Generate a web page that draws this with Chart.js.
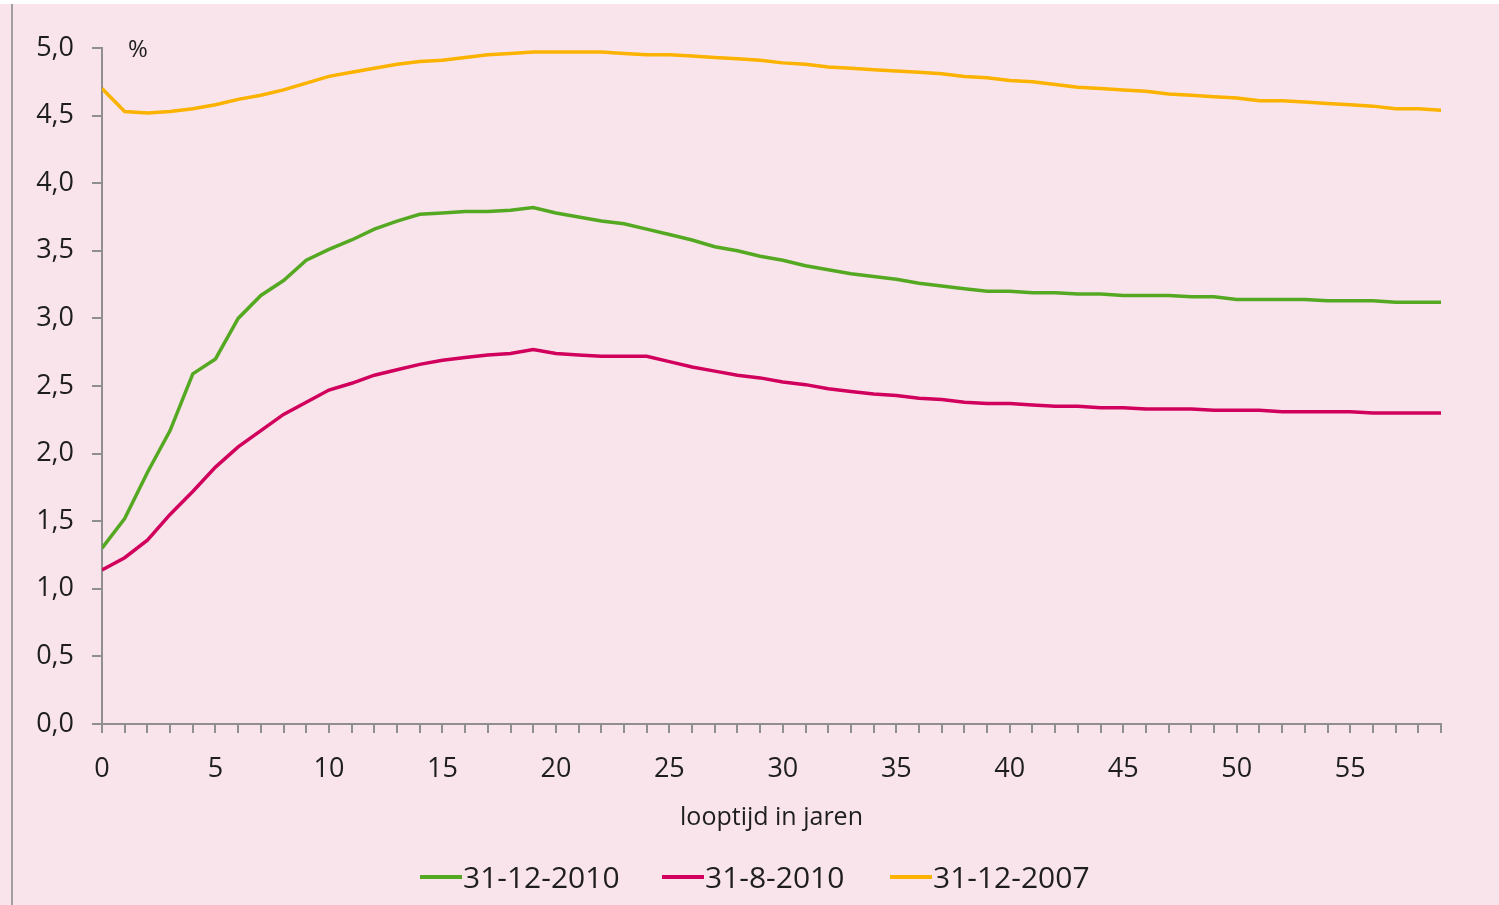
<!DOCTYPE html>
<html>
<head>
<meta charset="utf-8">
<script src="https://cdn.jsdelivr.net/npm/chart.js@4/dist/chart.umd.min.js"></script>
<style>
  html, body { margin: 0; padding: 0; background: #f9e4ec; }
  #wrap { width: 1499px; height: 905px; }
</style>
</head>
<body>
<div id="wrap"><canvas id="plot1" width="1499" height="905"></canvas></div>
<script>
// looptijd in jaren 0..59
let jaren = [0,1,2,3,4,5,6,7,8,9,10,11,12,13,14,15,16,17,18,19,20,21,22,23,24,25,26,27,28,29,
  30,31,32,33,34,35,36,37,38,39,40,41,42,43,44,45,46,47,48,49,50,51,52,53,54,55,56,57,58,59]

let reeks2010dec = [1.30,1.52,1.86,2.17,2.59,2.70,3.00,3.17,3.28,3.43,3.51,3.58,3.66,3.72,3.77,3.78,3.79,3.79,3.80,3.82,
  3.78,3.75,3.72,3.70,3.66,3.62,3.58,3.53,3.50,3.46,3.43,3.39,3.36,3.33,3.31,3.29,3.26,3.24,3.22,3.20,
  3.20,3.19,3.19,3.18,3.18,3.17,3.17,3.17,3.16,3.16,3.14,3.14,3.14,3.14,3.13,3.13,3.13,3.12,3.12,3.12]

let reeks2010aug = [1.14,1.23,1.36,1.55,1.72,1.90,2.05,2.17,2.29,2.38,2.47,2.52,2.58,2.62,2.66,2.69,2.71,2.73,2.74,2.77,
  2.74,2.73,2.72,2.72,2.72,2.68,2.64,2.61,2.58,2.56,2.53,2.51,2.48,2.46,2.44,2.43,2.41,2.40,2.38,2.37,
  2.37,2.36,2.35,2.35,2.34,2.34,2.33,2.33,2.33,2.32,2.32,2.32,2.31,2.31,2.31,2.31,2.30,2.30,2.30,2.30]

let reeks2007dec = [4.70,4.53,4.52,4.53,4.55,4.58,4.62,4.65,4.69,4.74,4.79,4.82,4.85,4.88,4.90,4.91,4.93,4.95,4.96,4.97,
  4.97,4.97,4.97,4.96,4.95,4.95,4.94,4.93,4.92,4.91,4.89,4.88,4.86,4.85,4.84,4.83,4.82,4.81,4.79,4.78,
  4.76,4.75,4.73,4.71,4.70,4.69,4.68,4.66,4.65,4.64,4.63,4.61,4.61,4.60,4.59,4.58,4.57,4.55,4.55,4.54]

let legendaLabels = ['31-12-2010', '31-8-2010', '31-12-2007']
let yTicks = [0, 0.5, 1, 1.5, 2, 2.5, 3, 3.5, 4, 4.5, 5]

const fontFam = '"Open Sans", sans-serif'
const asGrijs = '#8f8f8f'
const tekstKleur = '#1e1e1e'

let punten = (arr) => arr.map((v, i) => ({x: jaren[i], y: v}))

// achtergrond, linker kaderlijn, % en legenda
let extras = {
  id: 'extras',
  beforeDraw(chart) {
    let ctx = chart.ctx
    ctx.save()
    ctx.fillStyle = '#f9e4ec'
    ctx.fillRect(0, 0, chart.width, chart.height)
    ctx.fillStyle = '#ffffff'
    ctx.fillRect(0, 0, chart.width, 4)
    ctx.strokeStyle = '#a0a0a0'
    ctx.lineWidth = 2
    ctx.beginPath()
    ctx.moveTo(12, 4)
    ctx.lineTo(12, chart.height)
    ctx.stroke()
    ctx.restore()
  },
  afterDraw(chart) {
    let ctx = chart.ctx
    let area = chart.chartArea
    ctx.save()
    ctx.fillStyle = tekstKleur
    ctx.font = '24px ' + fontFam
    ctx.textAlign = 'left'
    ctx.textBaseline = 'middle'
    ctx.fillText('%', area.left + 26, area.top + 2)

    // legenda
    ctx.font = '30px ' + fontFam
    let startX = [420, 662, 890]
    let y = 877
    chart.data.datasets.forEach((ds, i) => {
      ctx.strokeStyle = ds.borderColor
      ctx.lineWidth = 4
      ctx.beginPath()
      ctx.moveTo(startX[i], y)
      ctx.lineTo(startX[i] + 42, y)
      ctx.stroke()
      ctx.fillStyle = tekstKleur
      ctx.fillText(ds.label, startX[i] + 43, y + 2)
    })
    ctx.restore()
  }
}

let plotRef = document.getElementById('plot1')

let config = {
  type: 'line',
  data: {
    datasets: [
      { label: legendaLabels[0], data: punten(reeks2010dec), borderColor: '#55a821' },
      { label: legendaLabels[1], data: punten(reeks2010aug), borderColor: '#d1005c' },
      { label: legendaLabels[2], data: punten(reeks2007dec), borderColor: '#fbb200' }
    ]
  },
  options: {
    responsive: false,
    animation: false,
    devicePixelRatio: 1,
    layout: { padding: { top: 48, right: 58, bottom: 61, left: 0 } },
    elements: {
      line: { borderWidth: 3.5, tension: 0 },
      point: { radius: 0 }
    },
    plugins: {
      legend: { display: false },
      tooltip: { enabled: false }
    },
    scales: {
      x: {
        type: 'linear',
        min: 0,
        max: 59,
        afterFit: (scale) => { scale.height = 120 },
        border: { display: true, color: asGrijs, width: 2 },
        grid: { drawOnChartArea: false, drawTicks: true, tickLength: 9, color: asGrijs, lineWidth: 2 },
        ticks: {
          stepSize: 1,
          autoSkip: false,
          maxRotation: 0,
          padding: 20,
          color: tekstKleur,
          font: { family: fontFam, size: 27 },
          callback: (v) => (v % 5 === 0 ? String(v) : '')
        },
        title: {
          display: true,
          text: 'looptijd in jaren',
          color: tekstKleur,
          font: { family: fontFam, size: 25 },
          padding: { top: 0, bottom: 11 }
        }
      },
      y: {
        min: 0,
        max: 5,
        afterFit: (scale) => { scale.width = 102 },
        afterBuildTicks: (scale) => { scale.ticks = yTicks.map(v => ({value: v})) },
        border: { display: true, color: asGrijs, width: 2 },
        grid: { drawOnChartArea: false, drawTicks: true, tickLength: 10, color: asGrijs, lineWidth: 2 },
        ticks: {
          padding: 18,
          color: tekstKleur,
          font: { family: fontFam, size: 27 },
          callback: (v) => v.toFixed(1).replace('.', ',')
        }
      }
    }
  },
  plugins: [extras]
}

let chart1 = new Chart(plotRef, config)
</script>
</body>
</html>
